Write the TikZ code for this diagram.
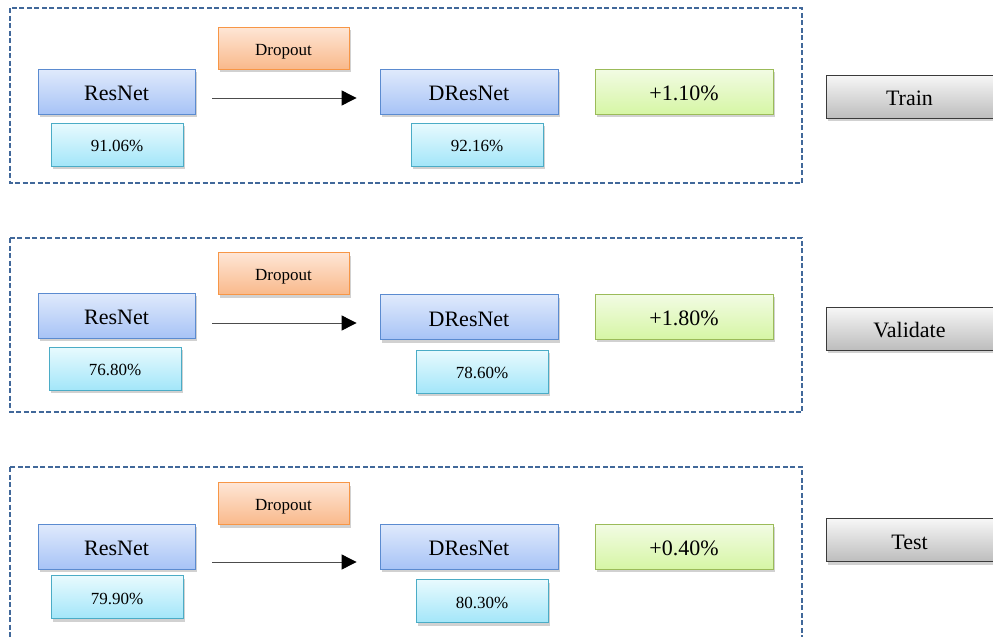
\documentclass[tikz,border=0pt]{standalone}
\usepackage{fontspec}
\setmainfont{Liberation Serif}
\usetikzlibrary{arrows.meta,shadows}
\definecolor{bluetop}{HTML}{E0EAFC}
\definecolor{bluebot}{HTML}{A7C3F6}
\definecolor{blueline}{HTML}{5B8BD0}
\definecolor{cyantop}{HTML}{E8FAFE}
\definecolor{cyanbot}{HTML}{A3E6F9}
\definecolor{cyanline}{HTML}{4BACC6}
\definecolor{orgtop}{HTML}{FEE6D6}
\definecolor{orgbot}{HTML}{F9B98B}
\definecolor{orgline}{HTML}{F79646}
\definecolor{grntop}{HTML}{F2FBE4}
\definecolor{grnbot}{HTML}{D6F6A5}
\definecolor{grnline}{HTML}{9BBB59}
\definecolor{gretop}{HTML}{F7F7F7}
\definecolor{grebot}{HTML}{BDBDBD}
\definecolor{greline}{HTML}{3A3A3A}
\definecolor{dashline}{HTML}{41689A}
\tikzset{
  x=1pt, y=-1pt,
  box/.style={line width=0.8pt, inner sep=0pt, align=center, text depth=0pt,
    drop shadow={shadow xshift=2pt, shadow yshift=-3pt, opacity=0.3, fill=black!60}},
  bigtxt/.style={font=\fontsize{22}{26}\selectfont, text height=18pt},
  smalltxt/.style={font=\fontsize{17}{20}\selectfont, text height=14pt},
  netbox/.style={box, bigtxt, draw=blueline, top color=bluetop, bottom color=bluebot, minimum height=45pt},
  pctbox/.style={box, smalltxt, draw=cyanline, top color=cyantop, bottom color=cyanbot, minimum width=132pt, minimum height=43pt},
  dropbox/.style={box, smalltxt, draw=orgline, top color=orgtop, bottom color=orgbot, minimum width=131pt, minimum height=42pt},
  gainbox/.style={box, bigtxt, draw=grnline, top color=grntop, bottom color=grnbot, minimum width=178pt, minimum height=45pt},
  stagebox/.style={box, bigtxt, draw=greline, top color=gretop, bottom color=grebot, minimum width=167pt, minimum height=43pt},
  panel/.style={draw=dashline, line width=1.2pt, dash pattern=on 5pt off 2.5pt},
  flow/.style={draw=black!70, line width=0.9pt, -{Triangle[length=15pt,width=15pt,color=black]}}
}
\begin{document}
\begin{tikzpicture}
\useasboundingbox (0,0) rectangle (993,637);
% ---------- panel 1 ----------
\draw[panel] (10,8) rectangle (802,183);
\node[dropbox] (dr1) at (283.5,48) {Dropout};
\node[netbox, minimum width=157pt] (r1) at (116.5,91.5) {ResNet};
\node[pctbox] (pr1) at (117,144.5) {91.06\%};
\node[netbox, minimum width=178pt] (d1) at (469,91.5) {DResNet};
\node[pctbox] (pd1) at (477,144.5) {92.16\%};
\node[gainbox] (g1) at (684,91.5) {+1.10\%};
\node[stagebox] (s1) at (909.5,96.5) {Train};
\draw[flow] ([xshift=17pt,yshift=-6.5pt]r1.east) -- ([xshift=-23pt,yshift=-6.5pt]d1.west);
% ---------- panel 2 ----------
\draw[panel] (10,238) rectangle (802,412);
\node[dropbox] (dr2) at (283.5,273.5) {Dropout};
\node[netbox, minimum width=157pt] (r2) at (116.5,315.5) {ResNet};
\node[pctbox] (pr2) at (115,368.5) {76.80\%};
\node[netbox, minimum width=178pt] (d2) at (469,317) {DResNet};
\node[pctbox] (pd2) at (482,371.5) {78.60\%};
\node[gainbox] (g2) at (684,316.5) {+1.80\%};
\node[stagebox] (s2) at (909.5,328.5) {Validate};
\draw[flow] ([xshift=17pt,yshift=-7.5pt]r2.east) -- ([xshift=-23pt,yshift=-7.5pt]r2.east -| d2.west);
% ---------- panel 3 ----------
\draw[panel] (10,467) rectangle (802,660);
\node[dropbox] (dr3) at (283.5,503.5) {Dropout};
\node[netbox, minimum width=157pt] (r3) at (116.5,546.5) {ResNet};
\node[pctbox] (pr3) at (117,597) {79.90\%};
\node[netbox, minimum width=178pt] (d3) at (469,546.5) {DResNet};
\node[pctbox] (pd3) at (482,601) {80.30\%};
\node[gainbox] (g3) at (684,546.5) {+0.40\%};
\node[stagebox] (s3) at (909.5,540) {Test};
\draw[flow] ([xshift=17pt,yshift=-15.5pt]r3.east) -- ([xshift=-23pt,yshift=-15.5pt]d3.west);
\end{tikzpicture}
\end{document}
